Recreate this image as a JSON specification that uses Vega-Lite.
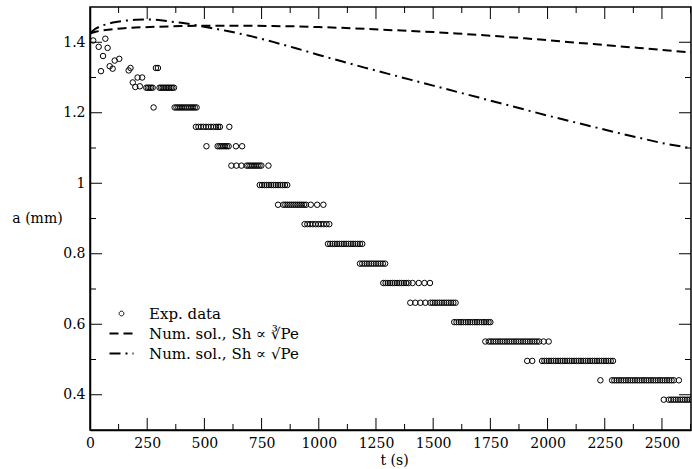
{
  "$schema": "https://vega.github.io/schema/vega-lite/v6.json",
  "width": 601,
  "height": 423,
  "autosize": "none",
  "padding": {"left": 90, "top": 7, "right": 1, "bottom": 39},
  "background": "white",
  "config": {
    "font": "DejaVu Serif",
    "view": {"stroke": "black", "strokeWidth": 1.5},
    "axis": {
      "grid": false,
      "domainColor": "black",
      "domainWidth": 1.5,
      "labelFont": "DejaVu Serif",
      "labelFontSize": 14,
      "labelColor": "black",
      "titleFont": "DejaVu Serif",
      "titleFontSize": 14,
      "titleFontWeight": "normal",
      "titleColor": "black",
      "labelOverlap": false,
      "labelFlush": false
    }
  },
  "datasets": {
    "xticks": [
      {"t":0,"kind":"major"},{"t":125,"kind":"minor"},{"t":250,"kind":"major"},{"t":375,"kind":"minor"},{"t":500,"kind":"major"},{"t":625,"kind":"minor"},{"t":750,"kind":"major"},{"t":875,"kind":"minor"},{"t":1000,"kind":"major"},{"t":1125,"kind":"minor"},{"t":1250,"kind":"major"},{"t":1375,"kind":"minor"},{"t":1500,"kind":"major"},{"t":1625,"kind":"minor"},{"t":1750,"kind":"major"},{"t":1875,"kind":"minor"},{"t":2000,"kind":"major"},{"t":2125,"kind":"minor"},{"t":2250,"kind":"major"},{"t":2375,"kind":"minor"},{"t":2500,"kind":"major"},{"t":2625,"kind":"minor"}
    ],
    "yticks": [
      {"a":0.4,"kind":"major"},{"a":0.5,"kind":"minor"},{"a":0.6,"kind":"major"},{"a":0.7,"kind":"minor"},{"a":0.8,"kind":"major"},{"a":0.9,"kind":"minor"},{"a":1.0,"kind":"major"},{"a":1.1,"kind":"minor"},{"a":1.2,"kind":"major"},{"a":1.3,"kind":"minor"},{"a":1.4,"kind":"major"}
    ],
    "exp": [
      {"t":14,"a":1.405},{"t":38,"a":1.387},{"t":48,"a":1.318},{"t":57,"a":1.361},{"t":67,"a":1.41},{"t":77,"a":1.384},{"t":86,"a":1.332},{"t":99,"a":1.325},{"t":108,"a":1.348},{"t":128,"a":1.353},{"t":169,"a":1.32},{"t":177,"a":1.327},{"t":187,"a":1.286},{"t":198,"a":1.273},{"t":208,"a":1.3},{"t":218,"a":1.275},{"t":228,"a":1.3},{"t":278,"a":1.215},{"t":288,"a":1.327},{"t":297,"a":1.327},
      {"t":246,"a":1.271},{"t":253,"a":1.271},{"t":260,"a":1.271},{"t":267,"a":1.271},{"t":274,"a":1.271},{"t":304,"a":1.271},{"t":311,"a":1.271},{"t":318,"a":1.271},{"t":325,"a":1.271},{"t":332,"a":1.271},{"t":339,"a":1.271},{"t":346,"a":1.271},{"t":353,"a":1.271},{"t":360,"a":1.271},{"t":367,"a":1.271},
      {"t":370,"a":1.215},{"t":378,"a":1.215},{"t":386,"a":1.215},{"t":394,"a":1.215},{"t":402,"a":1.215},{"t":410,"a":1.215},{"t":418,"a":1.215},{"t":426,"a":1.215},{"t":434,"a":1.215},{"t":442,"a":1.215},{"t":450,"a":1.215},{"t":458,"a":1.215},{"t":466,"a":1.215},
      {"t":463,"a":1.16},{"t":474,"a":1.16},{"t":485,"a":1.16},{"t":496,"a":1.16},{"t":507,"a":1.16},{"t":518,"a":1.16},{"t":529,"a":1.16},{"t":540,"a":1.16},{"t":551,"a":1.16},{"t":560,"a":1.16},{"t":568,"a":1.16},{"t":609,"a":1.16},
      {"t":509,"a":1.105},{"t":558,"a":1.105},{"t":566,"a":1.105},{"t":574,"a":1.105},{"t":582,"a":1.105},{"t":590,"a":1.105},{"t":598,"a":1.105},{"t":606,"a":1.105},{"t":638,"a":1.105},{"t":665,"a":1.105},
      {"t":618,"a":1.05},{"t":640,"a":1.05},{"t":662,"a":1.05},{"t":685,"a":1.05},{"t":693,"a":1.05},{"t":701,"a":1.05},{"t":709,"a":1.05},{"t":717,"a":1.05},{"t":725,"a":1.05},{"t":733,"a":1.05},{"t":741,"a":1.05},{"t":749,"a":1.05},{"t":780,"a":1.05},
      {"t":742,"a":0.995},{"t":752,"a":0.995},{"t":762,"a":0.995},{"t":772,"a":0.995},{"t":782,"a":0.995},{"t":792,"a":0.995},{"t":802,"a":0.995},{"t":812,"a":0.995},{"t":822,"a":0.995},{"t":832,"a":0.995},{"t":842,"a":0.995},{"t":852,"a":0.995},{"t":862,"a":0.995},
      {"t":822,"a":0.939},{"t":845,"a":0.939},{"t":854,"a":0.939},{"t":863,"a":0.939},{"t":872,"a":0.939},{"t":881,"a":0.939},{"t":890,"a":0.939},{"t":899,"a":0.939},{"t":908,"a":0.939},{"t":917,"a":0.939},{"t":926,"a":0.939},{"t":935,"a":0.939},{"t":944,"a":0.939},{"t":965,"a":0.939},{"t":993,"a":0.939},{"t":1020,"a":0.939},
      {"t":938,"a":0.884},{"t":950,"a":0.884},{"t":962,"a":0.884},{"t":974,"a":0.884},{"t":986,"a":0.884},{"t":998,"a":0.884},{"t":1010,"a":0.884},{"t":1022,"a":0.884},{"t":1034,"a":0.884},{"t":1046,"a":0.884},
      {"t":1040,"a":0.828},{"t":1050,"a":0.828},{"t":1060,"a":0.828},{"t":1070,"a":0.828},{"t":1080,"a":0.828},{"t":1090,"a":0.828},{"t":1100,"a":0.828},{"t":1110,"a":0.828},{"t":1120,"a":0.828},{"t":1130,"a":0.828},{"t":1140,"a":0.828},{"t":1150,"a":0.828},{"t":1160,"a":0.828},{"t":1170,"a":0.828},{"t":1180,"a":0.828},{"t":1190,"a":0.828},
      {"t":1180,"a":0.772},{"t":1190,"a":0.772},{"t":1200,"a":0.772},{"t":1210,"a":0.772},{"t":1220,"a":0.772},{"t":1230,"a":0.772},{"t":1240,"a":0.772},{"t":1250,"a":0.772},{"t":1260,"a":0.772},{"t":1270,"a":0.772},{"t":1280,"a":0.772},{"t":1290,"a":0.772},
      {"t":1282,"a":0.717},{"t":1292,"a":0.717},{"t":1302,"a":0.717},{"t":1312,"a":0.717},{"t":1322,"a":0.717},{"t":1332,"a":0.717},{"t":1342,"a":0.717},{"t":1352,"a":0.717},{"t":1362,"a":0.717},{"t":1372,"a":0.717},{"t":1382,"a":0.717},{"t":1392,"a":0.717},{"t":1410,"a":0.717},{"t":1437,"a":0.717},{"t":1462,"a":0.717},{"t":1486,"a":0.717},
      {"t":1400,"a":0.661},{"t":1422,"a":0.661},{"t":1444,"a":0.661},{"t":1466,"a":0.661},{"t":1488,"a":0.661},{"t":1498,"a":0.661},{"t":1508,"a":0.661},{"t":1518,"a":0.661},{"t":1528,"a":0.661},{"t":1538,"a":0.661},{"t":1548,"a":0.661},{"t":1558,"a":0.661},{"t":1568,"a":0.661},{"t":1578,"a":0.661},{"t":1588,"a":0.661},{"t":1598,"a":0.661},
      {"t":1592,"a":0.606},{"t":1602,"a":0.606},{"t":1612,"a":0.606},{"t":1622,"a":0.606},{"t":1632,"a":0.606},{"t":1642,"a":0.606},{"t":1652,"a":0.606},{"t":1662,"a":0.606},{"t":1672,"a":0.606},{"t":1682,"a":0.606},{"t":1692,"a":0.606},{"t":1702,"a":0.606},{"t":1712,"a":0.606},{"t":1722,"a":0.606},{"t":1732,"a":0.606},{"t":1742,"a":0.606},{"t":1750,"a":0.606},
      {"t":1728,"a":0.551},{"t":1743,"a":0.551},{"t":1753,"a":0.551},{"t":1763,"a":0.551},{"t":1773,"a":0.551},{"t":1783,"a":0.551},{"t":1793,"a":0.551},{"t":1803,"a":0.551},{"t":1813,"a":0.551},{"t":1823,"a":0.551},{"t":1833,"a":0.551},{"t":1843,"a":0.551},{"t":1853,"a":0.551},{"t":1863,"a":0.551},{"t":1873,"a":0.551},{"t":1883,"a":0.551},{"t":1893,"a":0.551},{"t":1903,"a":0.551},{"t":1913,"a":0.551},{"t":1923,"a":0.551},{"t":1933,"a":0.551},{"t":1943,"a":0.551},{"t":1953,"a":0.551},{"t":1963,"a":0.551},{"t":1983,"a":0.551},{"t":2005,"a":0.551},
      {"t":1911,"a":0.496},{"t":1933,"a":0.496},{"t":1976,"a":0.496},{"t":1986,"a":0.496},{"t":1996,"a":0.496},{"t":2006,"a":0.496},{"t":2016,"a":0.496},{"t":2026,"a":0.496},{"t":2036,"a":0.496},{"t":2046,"a":0.496},{"t":2056,"a":0.496},{"t":2066,"a":0.496},{"t":2076,"a":0.496},{"t":2086,"a":0.496},{"t":2096,"a":0.496},{"t":2106,"a":0.496},{"t":2116,"a":0.496},{"t":2126,"a":0.496},{"t":2136,"a":0.496},{"t":2146,"a":0.496},{"t":2156,"a":0.496},{"t":2166,"a":0.496},{"t":2176,"a":0.496},{"t":2186,"a":0.496},{"t":2196,"a":0.496},{"t":2206,"a":0.496},{"t":2216,"a":0.496},{"t":2226,"a":0.496},{"t":2236,"a":0.496},{"t":2246,"a":0.496},{"t":2256,"a":0.496},{"t":2266,"a":0.496},{"t":2276,"a":0.496},{"t":2286,"a":0.496},
      {"t":2231,"a":0.441},{"t":2282,"a":0.441},{"t":2292,"a":0.441},{"t":2302,"a":0.441},{"t":2312,"a":0.441},{"t":2322,"a":0.441},{"t":2332,"a":0.441},{"t":2342,"a":0.441},{"t":2352,"a":0.441},{"t":2362,"a":0.441},{"t":2372,"a":0.441},{"t":2382,"a":0.441},{"t":2392,"a":0.441},{"t":2402,"a":0.441},{"t":2412,"a":0.441},{"t":2422,"a":0.441},{"t":2432,"a":0.441},{"t":2442,"a":0.441},{"t":2452,"a":0.441},{"t":2462,"a":0.441},{"t":2472,"a":0.441},{"t":2482,"a":0.441},{"t":2492,"a":0.441},{"t":2502,"a":0.441},{"t":2512,"a":0.441},{"t":2522,"a":0.441},{"t":2532,"a":0.441},{"t":2542,"a":0.441},{"t":2552,"a":0.441},{"t":2574,"a":0.441},
      {"t":2508,"a":0.386},{"t":2530,"a":0.386},{"t":2540,"a":0.386},{"t":2550,"a":0.386},{"t":2560,"a":0.386},{"t":2570,"a":0.386},{"t":2580,"a":0.386},{"t":2590,"a":0.386},{"t":2600,"a":0.386},{"t":2610,"a":0.386},{"t":2620,"a":0.386},{"t":2630,"a":0.386}
    ],
    "num": [
      {"series":"Num. sol., Sh ∝ ∛Pe","t":0,"a":1.425},{"series":"Num. sol., Sh ∝ ∛Pe","t":10,"a":1.427},{"series":"Num. sol., Sh ∝ ∛Pe","t":25,"a":1.43},{"series":"Num. sol., Sh ∝ ∛Pe","t":50,"a":1.433},{"series":"Num. sol., Sh ∝ ∛Pe","t":100,"a":1.437},{"series":"Num. sol., Sh ∝ ∛Pe","t":150,"a":1.44},{"series":"Num. sol., Sh ∝ ∛Pe","t":200,"a":1.442},{"series":"Num. sol., Sh ∝ ∛Pe","t":300,"a":1.444},{"series":"Num. sol., Sh ∝ ∛Pe","t":400,"a":1.446},{"series":"Num. sol., Sh ∝ ∛Pe","t":500,"a":1.447},{"series":"Num. sol., Sh ∝ ∛Pe","t":600,"a":1.447},{"series":"Num. sol., Sh ∝ ∛Pe","t":700,"a":1.447},{"series":"Num. sol., Sh ∝ ∛Pe","t":800,"a":1.446},{"series":"Num. sol., Sh ∝ ∛Pe","t":900,"a":1.445},{"series":"Num. sol., Sh ∝ ∛Pe","t":1000,"a":1.443},{"series":"Num. sol., Sh ∝ ∛Pe","t":1100,"a":1.441},{"series":"Num. sol., Sh ∝ ∛Pe","t":1200,"a":1.438},{"series":"Num. sol., Sh ∝ ∛Pe","t":1300,"a":1.435},{"series":"Num. sol., Sh ∝ ∛Pe","t":1400,"a":1.432},{"series":"Num. sol., Sh ∝ ∛Pe","t":1500,"a":1.429},{"series":"Num. sol., Sh ∝ ∛Pe","t":1600,"a":1.425},{"series":"Num. sol., Sh ∝ ∛Pe","t":1700,"a":1.421},{"series":"Num. sol., Sh ∝ ∛Pe","t":1800,"a":1.416},{"series":"Num. sol., Sh ∝ ∛Pe","t":1900,"a":1.411},{"series":"Num. sol., Sh ∝ ∛Pe","t":2000,"a":1.406},{"series":"Num. sol., Sh ∝ ∛Pe","t":2100,"a":1.4},{"series":"Num. sol., Sh ∝ ∛Pe","t":2200,"a":1.395},{"series":"Num. sol., Sh ∝ ∛Pe","t":2300,"a":1.389},{"series":"Num. sol., Sh ∝ ∛Pe","t":2400,"a":1.384},{"series":"Num. sol., Sh ∝ ∛Pe","t":2500,"a":1.378},{"series":"Num. sol., Sh ∝ ∛Pe","t":2630,"a":1.371},
      {"series":"Num. sol., Sh ∝ √Pe","t":0,"a":1.425},{"series":"Num. sol., Sh ∝ √Pe","t":10,"a":1.431},{"series":"Num. sol., Sh ∝ √Pe","t":25,"a":1.439},{"series":"Num. sol., Sh ∝ √Pe","t":50,"a":1.447},{"series":"Num. sol., Sh ∝ √Pe","t":100,"a":1.456},{"series":"Num. sol., Sh ∝ √Pe","t":150,"a":1.461},{"series":"Num. sol., Sh ∝ √Pe","t":200,"a":1.464},{"series":"Num. sol., Sh ∝ √Pe","t":250,"a":1.465},{"series":"Num. sol., Sh ∝ √Pe","t":300,"a":1.463},{"series":"Num. sol., Sh ∝ √Pe","t":350,"a":1.459},{"series":"Num. sol., Sh ∝ √Pe","t":400,"a":1.455},{"series":"Num. sol., Sh ∝ √Pe","t":450,"a":1.45},{"series":"Num. sol., Sh ∝ √Pe","t":500,"a":1.444},{"series":"Num. sol., Sh ∝ √Pe","t":550,"a":1.438},{"series":"Num. sol., Sh ∝ √Pe","t":600,"a":1.432},{"series":"Num. sol., Sh ∝ √Pe","t":650,"a":1.425},{"series":"Num. sol., Sh ∝ √Pe","t":700,"a":1.418},{"series":"Num. sol., Sh ∝ √Pe","t":800,"a":1.401},{"series":"Num. sol., Sh ∝ √Pe","t":900,"a":1.383},{"series":"Num. sol., Sh ∝ √Pe","t":1000,"a":1.364},{"series":"Num. sol., Sh ∝ √Pe","t":1100,"a":1.346},{"series":"Num. sol., Sh ∝ √Pe","t":1200,"a":1.328},{"series":"Num. sol., Sh ∝ √Pe","t":1300,"a":1.311},{"series":"Num. sol., Sh ∝ √Pe","t":1400,"a":1.294},{"series":"Num. sol., Sh ∝ √Pe","t":1500,"a":1.277},{"series":"Num. sol., Sh ∝ √Pe","t":1600,"a":1.26},{"series":"Num. sol., Sh ∝ √Pe","t":1700,"a":1.243},{"series":"Num. sol., Sh ∝ √Pe","t":1800,"a":1.226},{"series":"Num. sol., Sh ∝ √Pe","t":1900,"a":1.209},{"series":"Num. sol., Sh ∝ √Pe","t":2000,"a":1.192},{"series":"Num. sol., Sh ∝ √Pe","t":2100,"a":1.176},{"series":"Num. sol., Sh ∝ √Pe","t":2200,"a":1.16},{"series":"Num. sol., Sh ∝ √Pe","t":2300,"a":1.144},{"series":"Num. sol., Sh ∝ √Pe","t":2400,"a":1.129},{"series":"Num. sol., Sh ∝ √Pe","t":2500,"a":1.114},{"series":"Num. sol., Sh ∝ √Pe","t":2630,"a":1.099}
    ]
  },
  "layer": [
    {
      "data": {"name": "exp"},
      "mark": {"type": "point", "shape": "circle", "filled": false, "size": 30, "stroke": "black", "strokeWidth": 1, "opacity": 1, "clip": true},
      "encoding": {
        "x": {
          "field": "t", "type": "quantitative",
          "scale": {"domain": [0, 2627], "nice": false, "zero": false},
          "axis": {
            "orient": "bottom",
            "values": [0,250,500,750,1000,1250,1500,1750,2000,2250,2500],
            "format": "d",
            "ticks": false,
            "labelPadding": 6,
            "labelBaseline": "top",
            "labelAlign": "center",
            "labelFont": "DejaVu Serif",
            "labelFontSize": 14,
            "title": "t (s)",
            "titleFont": "DejaVu Serif",
            "titleX": 304,
            "titleY": 30,
            "titleAlign": "center",
            "titleBaseline": "middle"
          }
        },
        "y": {
          "field": "a", "type": "quantitative",
          "scale": {"domain": [0.3, 1.5], "nice": false, "zero": false},
          "axis": {
            "orient": "left",
            "values": [0.4,0.6,0.8,1,1.2,1.4],
            "format": "~g",
            "ticks": false,
            "labelPadding": 5,
            "labelAlign": "right",
            "labelBaseline": "middle",
            "labelFont": "DejaVu Serif",
            "labelFontSize": 14,
            "title": "a (mm)",
            "titleFont": "DejaVu Serif",
            "titleAngle": 0,
            "titleAlign": "center",
            "titleBaseline": "middle",
            "titleX": -53,
            "titleY": 211.5
          }
        }
      }
    },
    {
      "data": {"name": "num"},
      "mark": {"type": "line", "color": "black", "strokeWidth": 2, "clip": true},
      "encoding": {
        "x": {"field": "t", "type": "quantitative", "axis": null},
        "y": {"field": "a", "type": "quantitative", "axis": null},
        "strokeDash": {
          "field": "series", "type": "nominal",
          "scale": {
            "domain": ["Exp. data", "Num. sol., Sh ∝ ∛Pe", "Num. sol., Sh ∝ √Pe"],
            "range": [[1, 0], [9, 5], [11, 5, 2, 5]]
          },
          "legend": {
            "title": null,
            "orient": "none",
            "legendX": 24,
            "legendY": 299,
            "padding": 0,
            "symbolType": "stroke",
            "symbolSize": 576,
            "symbolStrokeWidth": 2,
            "symbolStrokeColor": "black",
            "labelFont": "DejaVu Serif",
            "labelFontSize": 15,
            "labelColor": "black",
            "labelOffset": 20,
            "labelLimit": 400,
            "rowPadding": 4,
            "encode": {
              "symbols": {
                "update": {
                  "shape": {"signal": "datum.value === 'Exp. data' ? 'circle' : 'stroke'"},
                  "size": {"signal": "datum.value === 'Exp. data' ? 22 : 576"},
                  "strokeWidth": {"signal": "datum.value === 'Exp. data' ? 1 : 2"}
                }
              }
            }
          }
        }
      }
    },
    {
      "data": {"name": "xticks"},
      "mark": {"type": "tick", "orient": "vertical", "thickness": 1, "color": "black", "opacity": 1, "clip": true},
      "encoding": {
        "x": {"field": "t", "type": "quantitative", "axis": null},
        "y": {"datum": 0.3, "type": "quantitative", "axis": null},
        "size": {"field": "kind", "type": "nominal", "scale": {"domain": ["major", "minor"], "range": [24, 12]}, "legend": null}
      }
    },
    {
      "data": {"name": "xticks"},
      "mark": {"type": "tick", "orient": "vertical", "thickness": 1, "color": "black", "opacity": 1, "clip": true},
      "encoding": {
        "x": {"field": "t", "type": "quantitative", "axis": null},
        "y": {"datum": 1.5, "type": "quantitative", "axis": null},
        "size": {"field": "kind", "type": "nominal", "scale": {"domain": ["major", "minor"], "range": [24, 12]}, "legend": null}
      }
    },
    {
      "data": {"name": "yticks"},
      "mark": {"type": "tick", "orient": "horizontal", "thickness": 1, "color": "black", "opacity": 1, "clip": true},
      "encoding": {
        "y": {"field": "a", "type": "quantitative", "axis": null},
        "x": {"datum": 0, "type": "quantitative", "axis": null},
        "size": {"field": "kind", "type": "nominal", "scale": {"domain": ["major", "minor"], "range": [24, 12]}, "legend": null}
      }
    },
    {
      "data": {"name": "yticks"},
      "mark": {"type": "tick", "orient": "horizontal", "thickness": 1, "color": "black", "opacity": 1, "clip": true},
      "encoding": {
        "y": {"field": "a", "type": "quantitative", "axis": null},
        "x": {"datum": 2627, "type": "quantitative", "axis": null},
        "size": {"field": "kind", "type": "nominal", "scale": {"domain": ["major", "minor"], "range": [24, 12]}, "legend": null}
      }
    }
  ],
  "resolve": {"axis": {"x": "independent", "y": "independent"}}
}
